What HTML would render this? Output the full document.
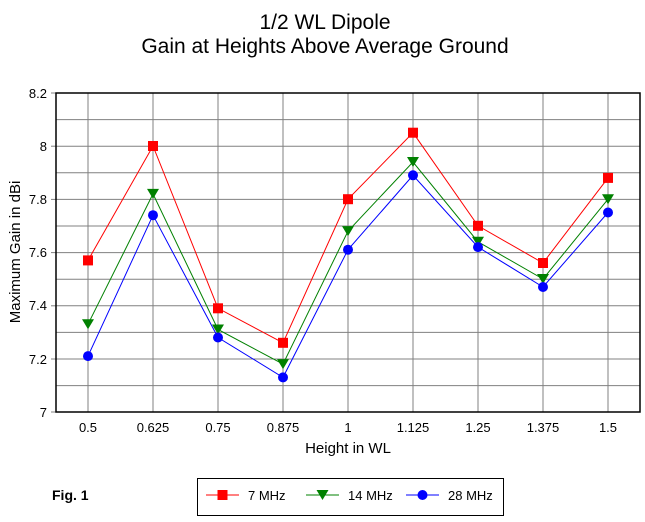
<!DOCTYPE html>
<html><head><meta charset="utf-8"><style>body{margin:0;background:#fff}svg{display:block;font-family:"Liberation Sans",Arial,sans-serif}</style></head>
<body>
<svg width="645" height="522" viewBox="0 0 645 522" xmlns="http://www.w3.org/2000/svg">
<rect width="645" height="522" fill="#fff"/>
<text x="325" y="29" font-size="21" text-anchor="middle">1/2 WL Dipole</text>
<text x="325" y="53" font-size="21" text-anchor="middle">Gain at Heights Above Average Ground</text>
<g stroke="#808080" stroke-width="1">
<line x1="56" y1="119.6" x2="640" y2="119.6"/><line x1="56" y1="146.2" x2="640" y2="146.2"/><line x1="56" y1="172.8" x2="640" y2="172.8"/><line x1="56" y1="199.4" x2="640" y2="199.4"/><line x1="56" y1="226" x2="640" y2="226"/><line x1="56" y1="252.6" x2="640" y2="252.6"/><line x1="56" y1="279.2" x2="640" y2="279.2"/><line x1="56" y1="305.8" x2="640" y2="305.8"/><line x1="56" y1="332.4" x2="640" y2="332.4"/><line x1="56" y1="359" x2="640" y2="359"/><line x1="56" y1="385.6" x2="640" y2="385.6"/>
<line x1="88" y1="93" x2="88" y2="412"/><line x1="153" y1="93" x2="153" y2="412"/><line x1="218" y1="93" x2="218" y2="412"/><line x1="283" y1="93" x2="283" y2="412"/><line x1="348" y1="93" x2="348" y2="412"/><line x1="413" y1="93" x2="413" y2="412"/><line x1="478" y1="93" x2="478" y2="412"/><line x1="543" y1="93" x2="543" y2="412"/><line x1="608" y1="93" x2="608" y2="412"/>
<line x1="51" y1="93" x2="56" y2="93"/><line x1="51" y1="146.2" x2="56" y2="146.2"/><line x1="51" y1="199.4" x2="56" y2="199.4"/><line x1="51" y1="252.6" x2="56" y2="252.6"/><line x1="51" y1="305.8" x2="56" y2="305.8"/><line x1="51" y1="359" x2="56" y2="359"/><line x1="51" y1="412" x2="56" y2="412"/>
</g>
<rect x="56" y="93" width="584" height="319" fill="none" stroke="#000" stroke-width="1.5"/>
<g font-size="13" text-anchor="end">
<text x="47" y="98">8.2</text><text x="47" y="151">8</text><text x="47" y="204">7.8</text><text x="47" y="257">7.6</text><text x="47" y="310">7.4</text><text x="47" y="364">7.2</text><text x="47" y="417">7</text>
</g>
<g font-size="13" text-anchor="middle">
<text x="88" y="432">0.5</text><text x="153" y="432">0.625</text><text x="218" y="432">0.75</text><text x="283" y="432">0.875</text><text x="348" y="432">1</text><text x="413" y="432">1.125</text><text x="478" y="432">1.25</text><text x="543" y="432">1.375</text><text x="608" y="432">1.5</text>
</g>
<text x="348" y="453" font-size="15" text-anchor="middle">Height in WL</text>
<text transform="translate(20,252) rotate(-90)" font-size="15" text-anchor="middle">Maximum Gain in dBi</text>
<polyline fill="none" stroke="#f00" points="88,260.4 153,146 218,308.3 283,342.8 348,199.2 413,132.7 478,225.8 543,263 608,177.9"/>
<polyline fill="none" stroke="#008000" points="88,324.2 153,193.9 218,329.5 283,364.1 348,231.1 413,162 478,241.8 543,279 608,199.2"/>
<polyline fill="none" stroke="#00f" points="88,356.1 153,215.2 218,337.5 283,377.4 348,249.7 413,175.3 478,247.1 543,287 608,212.5"/>
<g fill="#f00">
<rect x="83" y="255.4" width="10" height="10"/><rect x="148" y="141" width="10" height="10"/><rect x="213" y="303.3" width="10" height="10"/><rect x="278" y="337.8" width="10" height="10"/><rect x="343" y="194.2" width="10" height="10"/><rect x="408" y="127.7" width="10" height="10"/><rect x="473" y="220.8" width="10" height="10"/><rect x="538" y="258" width="10" height="10"/><rect x="603" y="172.9" width="10" height="10"/>
</g>
<g fill="#008000">
<path d="M82,319.2h12l-6,10z"/><path d="M147,188.9h12l-6,10z"/><path d="M212,324.5h12l-6,10z"/><path d="M277,359.1h12l-6,10z"/><path d="M342,226.1h12l-6,10z"/><path d="M407,157h12l-6,10z"/><path d="M472,236.8h12l-6,10z"/><path d="M537,274h12l-6,10z"/><path d="M602,194.2h12l-6,10z"/>
</g>
<g fill="#00f">
<circle cx="88" cy="356.1" r="5"/><circle cx="153" cy="215.2" r="5"/><circle cx="218" cy="337.5" r="5"/><circle cx="283" cy="377.4" r="5"/><circle cx="348" cy="249.7" r="5"/><circle cx="413" cy="175.3" r="5"/><circle cx="478" cy="247.1" r="5"/><circle cx="543" cy="287" r="5"/><circle cx="608" cy="212.5" r="5"/>
</g>
<text x="52" y="500" font-size="14" font-weight="bold">Fig. 1</text>
<rect x="197.5" y="478.5" width="306" height="37" fill="none" stroke="#000"/>
<line x1="206" y1="495" x2="239" y2="495" stroke="#f00"/><rect x="217.5" y="490" width="10" height="10" fill="#f00"/>
<text x="248" y="500" font-size="13">7 MHz</text>
<line x1="306" y1="495" x2="339" y2="495" stroke="#008000"/><path d="M316.5,490h12l-6,10z" fill="#008000"/>
<text x="348" y="500" font-size="13">14 MHz</text>
<line x1="406" y1="495" x2="439" y2="495" stroke="#00f"/><circle cx="422.5" cy="495" r="5" fill="#00f"/>
<text x="448" y="500" font-size="13">28 MHz</text>
</svg>
</body></html>
